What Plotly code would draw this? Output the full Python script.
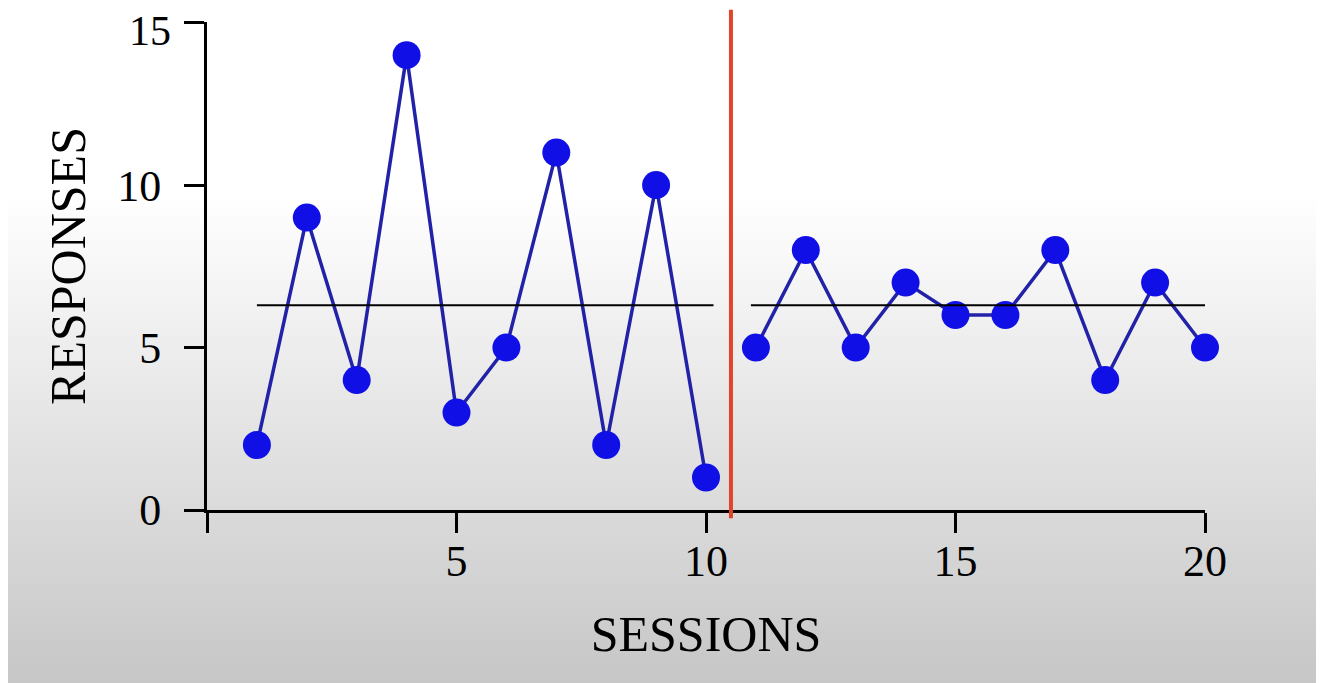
import plotly.graph_objects as go

# sessions and responses
sessions_a = [1, 2, 3, 4, 5, 6, 7, 8, 9, 10]
responses_a = [2, 9, 4, 14, 3, 5, 11, 2, 10, 1]
sessions_b = [11, 12, 13, 14, 15, 16, 17, 18, 19, 20]
responses_b = [5, 8, 5, 7, 6, 6, 8, 4, 7, 5]

# mean level lines (start, end, level) for each phase
mean_a = [1.0, 10.15, 6.3]
mean_b = [10.9, 20.05, 6.3]
phase_change = 10.5

x_ticks = [0, 5, 10, 15, 20]
x_tick_text = ["", "5", "10", "15", "20"]
y_ticks = [0, 5, 10, 15]

W, H = 1324, 683
OFF = 8  # page body margin
ML, MR, MT, MB = 207 - OFF, 127, 22 - OFF, 181
pw, ph = W - ML - MR, H - MT - MB

font = "Liberation Serif, Times New Roman, serif"
dot_color = "#1010e6"
line_color = "#2222a8"

fig = go.Figure()

# grey gradient background, white at the top fading to grey at the bottom
shapes = []
top_px, bot_px = 190 - OFF, H
step = 8
for p in range(top_px, bot_px, step):
    t = (p - top_px) / (bot_px - OFF - top_px)
    v = max(198, int(round(255 - 57 * t)))
    shapes.append(dict(
        type="rect", xref="paper", yref="paper", layer="below",
        x0=-0.4, x1=1.4,
        y0=(H - MB - (p + step + 1)) / ph, y1=(H - MB - p) / ph,
        fillcolor=f"rgb({v},{v},{v})", line=dict(width=0),
    ))

for start, end, level in (mean_a, mean_b):
    shapes.append(dict(type="line", xref="x", yref="y", x0=start, x1=end,
                       y0=level, y1=level, line=dict(color="black", width=2)))

shapes.append(dict(type="line", xref="x", yref="paper",
                   x0=phase_change, x1=phase_change, y0=-0.017, y1=1.025,
                   line=dict(color="#e0442a", width=4)))

for xs, ys in ((sessions_a, responses_a), (sessions_b, responses_b)):
    fig.add_trace(go.Scatter(
        x=xs, y=ys, mode="lines+markers", cliponaxis=False,
        line=dict(color=line_color, width=3.5),
        marker=dict(color=dot_color, size=28, line=dict(width=0)),
        showlegend=False, hoverinfo="skip",
    ))

# plotly drops the top tick label because it runs past the page edge,
# so the "15" is put back as an annotation next to its tick
top_tick = y_ticks[-1]
annotations = [dict(
    xref="paper", yref="y", x=0, y=top_tick, text=str(top_tick),
    showarrow=False, xanchor="right", yanchor="middle", xshift=-34, yshift=-8,
    font=dict(size=42, family=font, color="black"),
)]

fig.update_layout(
    width=W, height=H,
    margin=dict(l=ML, r=MR, t=MT, b=MB),
    paper_bgcolor="white", plot_bgcolor="rgba(0,0,0,0)",
    shapes=shapes, annotations=annotations,
    font=dict(family=font, color="black"),
)
fig.update_xaxes(
    range=[0, 20], tickvals=x_ticks, ticktext=x_tick_text,
    ticks="outside", ticklen=20, tickwidth=3, tickcolor="black",
    showline=True, linecolor="black", linewidth=3,
    showgrid=False, zeroline=False,
    tickfont=dict(size=44, family=font), ticklabelstandoff=-10,
    title=dict(text="SESSIONS", font=dict(size=50, family=font), standoff=32),
)
fig.update_yaxes(
    range=[0, 15.02], tickvals=y_ticks,
    ticks="outside", ticklen=20, tickwidth=3, tickcolor="black",
    showline=True, linecolor="black", linewidth=3,
    showgrid=False, zeroline=False,
    tickfont=dict(size=44, family=font), ticklabelstandoff=14,
    title=dict(text="RESPONSES", font=dict(size=50, family=font), standoff=16),
)

fig.write_html("out.html")
